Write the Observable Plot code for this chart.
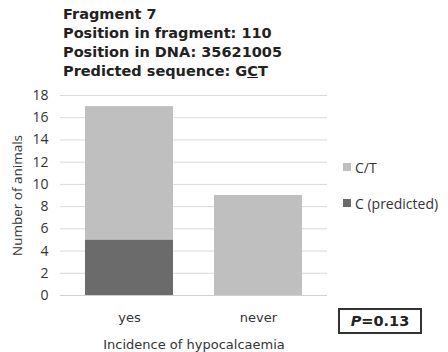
<!DOCTYPE html>
<html>
<head>
<meta charset="utf-8">
<script src="https://cdn.jsdelivr.net/npm/d3@7"></script>
<script src="https://cdn.jsdelivr.net/npm/@observablehq/plot@0.6"></script>
<style>
  html, body { margin: 0; padding: 0; background: #fff; }
  #wrap { position: relative; width: 448px; height: 352px; overflow: hidden; }
  #title { position: absolute; left: 63px; top: 5px; font-family: "DejaVu Sans", Verdana, sans-serif; font-weight: bold; font-size: 14.5px; line-height: 19px; color: #222; white-space: nowrap; }
  #legend { position: absolute; left: 343px; top: 156px; font-family: "Open Sans", sans-serif; font-size: 14px; color: #333; }
  #legend .item { display: flex; align-items: center; height: 22px; margin-bottom: 14px; white-space: nowrap; }
  #legend .sw { width: 8px; height: 8px; margin-right: 4px; }
  #pbox { position: absolute; left: 338px; top: 308px; width: 80px; height: 22px; border: 2px solid #333; box-sizing: content-box; font-family: "DejaVu Sans", Verdana, sans-serif; font-weight: bold; font-size: 14.5px; line-height: 22px; text-align: center; color: #222; }
  #chart { position: absolute; left: 0; top: 0; }
</style>
</head>
<body>
<div id="wrap">
  <div id="chart"></div>
  <div id="title"></div>
  <div id="legend"></div>
  <div id="pbox"></div>
</div>
<script>
const titleLines = ["Fragment 7", "Position in fragment: 110", "Position in DNA: 35621005"];
const seqPrefix = "Predicted sequence: G";
const seqUnderlined = "C";
const seqSuffix = "T";
const categories = ["yes", "never"];
const seriesNames = ["C (predicted)", "C/T"];
const cPredicted = [5, 0];
const cT = [12, 9];
const seriesColors = ["#6b6b6b", "#bfbfbf"];
const yTicks = [0, 2, 4, 6, 8, 10, 12, 14, 16, 18];
const xLabel = "Incidence of hypocalcaemia";
const yLabel = "Number of animals";
const pValue = "0.13";

const rows = [];
categories.forEach((c, i) => {
  rows.push({cat: c, series: seriesNames[0], value: cPredicted[i]});
  rows.push({cat: c, series: seriesNames[1], value: cT[i]});
});

const chart = Plot.plot({
  width: 448,
  height: 352,
  marginTop: 95,
  marginBottom: 57,
  marginLeft: 60,
  marginRight: 121,
  style: {background: "transparent", overflow: "visible"},
  x: {domain: categories, paddingInner: 0.32, paddingOuter: 0.19},
  y: {domain: [0, 18]},
  color: {domain: seriesNames, range: seriesColors},
  marks: [
    Plot.gridY(yTicks, {stroke: "#d9d9d9", strokeOpacity: 1}),
    Plot.barY(rows, {x: "cat", y: "value", fill: "series", order: seriesNames}),
    Plot.ruleY([0], {stroke: "#d0d0d0"}),
    Plot.axisY(yTicks, {tickSize: 0, tickPadding: 12, fontSize: 14, fontFamily: "Open Sans, sans-serif", fill: "#333",
      label: yLabel, labelAnchor: "center", labelOffset: 48, labelArrow: "none"}),
    Plot.axisX({tickSize: 0, tickPadding: 17, fontSize: 13, fontFamily: "DejaVu Sans, sans-serif", fill: "#333",
      label: xLabel, labelAnchor: "center", labelOffset: 53, labelArrow: "none"})
  ]
});
document.getElementById("chart").appendChild(chart);

chart.querySelectorAll('g[aria-label="y-axis label"] text').forEach(t => { t.setAttribute("font-size", "13.5"); t.setAttribute("font-family", "Open Sans, sans-serif"); });
chart.querySelectorAll('g[aria-label="x-axis label"] text').forEach(t => { t.setAttribute("font-size", "13"); t.setAttribute("font-family", "DejaVu Sans, sans-serif"); });

const title = document.getElementById("title");
titleLines.forEach(l => { const d = document.createElement("div"); d.textContent = l; title.appendChild(d); });
const seq = document.createElement("div");
seq.append(seqPrefix);
const u = document.createElement("u"); u.textContent = seqUnderlined; seq.appendChild(u);
seq.append(seqSuffix);
title.appendChild(seq);

const legend = document.getElementById("legend");
[1, 0].forEach(i => {
  const it = document.createElement("div"); it.className = "item";
  const sw = document.createElement("span"); sw.className = "sw"; sw.style.background = seriesColors[i];
  const tx = document.createElement("span"); tx.textContent = seriesNames[i];
  it.appendChild(sw); it.appendChild(tx); legend.appendChild(it);
});

const pb = document.getElementById("pbox");
const pi = document.createElement("i"); pi.textContent = "P";
pb.appendChild(pi); pb.append("=" + pValue);
</script>
</body>
</html>
